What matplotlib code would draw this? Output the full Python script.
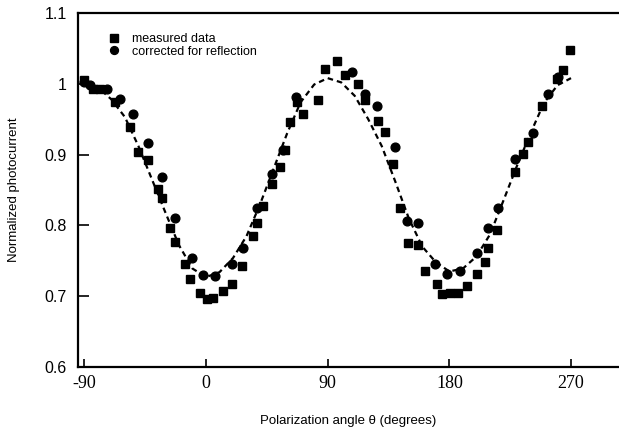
import numpy as np
import matplotlib.pyplot as plt

# measured data (squares)
meas_theta = [-90, -83.6, -78.4, -67.3, -56.2, -50.3, -42.9, -35.5, -32.5, -26.6,
              -22.9, -15.5, -11.8, -4.4, 0.7, 5.2, 12.6, 19.2, 26.6, 34.8,
              37.7, 42.2, 48.8, 54.7, 58.4, 62.1, 67.3, 71.7, 82.8, 88.0,
              96.9, 102.8, 112.4, 117.6, 127.2, 132.4, 138.3, 143.5, 149.4, 156.8,
              162.0, 170.9, 174.6, 180.5, 186.4, 193.0, 200.4, 206.4, 208.6, 215.2,
              228.6, 234.5, 238.2, 248.5, 259.6, 264.1, 269.2]
meas_val = [1.005, 0.992, 0.992, 0.975, 0.939, 0.904, 0.893, 0.851, 0.838, 0.796,
            0.777, 0.746, 0.724, 0.704, 0.696, 0.697, 0.707, 0.717, 0.742, 0.785,
            0.803, 0.827, 0.858, 0.883, 0.907, 0.946, 0.975, 0.958, 0.977, 1.021,
            1.032, 1.013, 1.000, 0.977, 0.948, 0.932, 0.887, 0.824, 0.775, 0.773,
            0.735, 0.717, 0.703, 0.704, 0.704, 0.714, 0.731, 0.749, 0.768, 0.794,
            0.876, 0.901, 0.918, 0.968, 1.007, 1.020, 1.048]

# corrected for reflection (circles)
corr_theta = [-90, -85.8, -73.2, -63.6, -54.0, -42.9, -32.5, -22.9, -10.4, -2.2,
              6.7, 19.2, 27.4, 37.7, 48.8, 57.0, 66.6, 108.0, 117.6, 126.5,
              139.8, 148.7, 156.8, 169.4, 178.3, 187.9, 200.4, 208.6, 216.0, 228.6,
              241.9, 253.0, 260.4]
corr_val = [1.003, 0.999, 0.993, 0.979, 0.958, 0.917, 0.869, 0.811, 0.754, 0.730,
            0.728, 0.746, 0.768, 0.824, 0.872, 0.907, 0.982, 1.017, 0.986, 0.969,
            0.911, 0.806, 0.804, 0.746, 0.731, 0.735, 0.761, 0.796, 0.824, 0.894,
            0.930, 0.986, 1.010]

# dashed fit curve
fit_theta = [-90, -80, -70, -60, -50, -40, -30, -20, -10, 0, 10, 20, 30, 40, 50,
             60, 70, 80, 90, 100, 110, 120, 130, 140, 150, 160, 170, 180, 190,
             200, 210, 220, 230, 240, 250, 260, 270]
fit_val = [1.0, 0.995, 0.978, 0.953, 0.912, 0.865, 0.818, 0.772, 0.739, 0.727,
           0.734, 0.754, 0.785, 0.83, 0.88, 0.93, 0.974, 0.999, 1.008, 1.002,
           0.983, 0.95, 0.912, 0.862, 0.81, 0.77, 0.748, 0.735, 0.739, 0.756,
           0.787, 0.835, 0.884, 0.93, 0.973, 0.998, 1.008]

xticks = [-90, 0, 90, 180, 270]
yticks = [0.6, 0.7, 0.8, 0.9, 1.0, 1.1]
ytick_labels = ["0.6", "0.7", "0.8", "0.9", "1", "1.1"]

plt.rcParams['font.family'] = ['Liberation Sans', 'DejaVu Sans']

fig = plt.figure(figsize=(6.19, 4.37), dpi=100)
ax = fig.add_axes([78 / 619, 70 / 437, 541 / 619, 354 / 437])

ax.plot(fit_theta, fit_val, color="black", lw=1.6, ls=(0, (2.5, 1.8)), zorder=1)
ax.plot(meas_theta, meas_val, ls="none", marker="s", ms=6.3, color="black",
        label="measured data", zorder=2)
ax.plot(corr_theta, corr_val, ls="none", marker="o", ms=6.3, color="black",
        label="corrected for reflection", zorder=2)

ax.set_xlim(-94.7, 305.5)
ax.set_ylim(0.6, 1.1)
ax.set_xticks(xticks)
ax.set_xticklabels([str(t) for t in xticks], family=['Liberation Serif'], fontsize=13)
ax.set_yticks(yticks)
ax.set_yticklabels(ytick_labels, fontsize=11.5)
ax.tick_params(axis="x", direction="in", length=6, width=1.2, pad=6)
ax.tick_params(axis="y", direction="in", length=8, width=1.2, pad=8)

for side in ["left", "bottom", "top"]:
    ax.spines[side].set_linewidth(1.6)
ax.spines["right"].set_visible(False)

ax.set_xlabel("Polarization angle θ (degrees)", fontsize=9.5, labelpad=16)
ax.set_ylabel("Normalized photocurrent", fontsize=9.5, labelpad=18)

ax.legend(loc="upper left", bbox_to_anchor=(0.035, 0.975), frameon=False,
          fontsize=9, labelspacing=0.05, handlelength=1.0, handletextpad=0.9,
          markerscale=0.9)

fig.savefig("out.png", dpi=100)
